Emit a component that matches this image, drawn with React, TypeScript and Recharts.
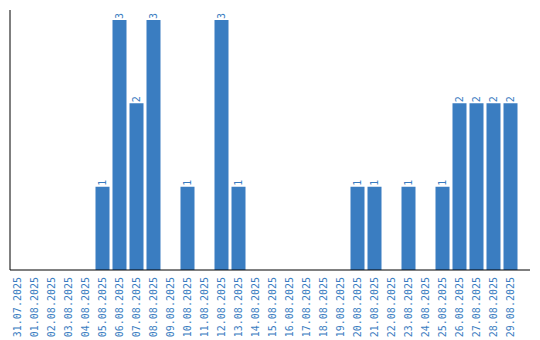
import React from 'react';
import { BarChart, Bar, XAxis, YAxis, LabelList } from 'recharts';

const dates = [
  '31.07.2025', '01.08.2025', '02.08.2025', '03.08.2025', '04.08.2025',
  '05.08.2025', '06.08.2025', '07.08.2025', '08.08.2025', '09.08.2025',
  '10.08.2025', '11.08.2025', '12.08.2025', '13.08.2025', '14.08.2025',
  '15.08.2025', '16.08.2025', '17.08.2025', '18.08.2025', '19.08.2025',
  '20.08.2025', '21.08.2025', '22.08.2025', '23.08.2025', '24.08.2025',
  '25.08.2025', '26.08.2025', '27.08.2025', '28.08.2025', '29.08.2025',
];

const counts = [
  0, 0, 0, 0, 0,
  1, 3, 2, 3, 0,
  1, 0, 3, 1, 0,
  0, 0, 0, 0, 0,
  1, 1, 0, 1, 0,
  1, 2, 2, 2, 2,
];

const data = dates.map((date, i) => ({ date, count: counts[i] }));

const BLUE = '#3a7dc1';
const FONT = '"DejaVu Sans Mono", "Liberation Mono", monospace';

const DateTick = (props: any) => {
  const { x, y, payload } = props;
  return (
    <text
      x={x}
      y={y}
      transform={`rotate(-90, ${x}, ${y})`}
      textAnchor="end"
      dominantBaseline="central"
      fill={BLUE}
      fontSize={10}
      fontFamily={FONT}
    >
      {payload.value}
    </text>
  );
};

const TopLabel = (props: any) => {
  const { x, y, width, value } = props;
  if (!value) return null;
  const cx = x + width / 2;
  const ty = y - 1;
  return (
    <text
      x={cx}
      y={ty}
      transform={`rotate(-90, ${cx}, ${ty})`}
      textAnchor="start"
      dominantBaseline="central"
      fill={BLUE}
      fontSize={10}
      fontFamily={FONT}
    >
      {value}
    </text>
  );
};

export default function App() {
  return (
    <div style={{ position: 'absolute', left: 0, top: 0, width: 540, height: 340, background: '#fff' }}>
      <BarChart
        width={540}
        height={340}
        data={data}
        margin={{ top: 10, right: 10, left: 9, bottom: 0 }}
        barSize={14}
      >
        <XAxis
          dataKey="date"
          interval={0}
          height={70}
          tickLine={false}
          tickSize={0}
          tickMargin={7}
          padding={{ left: -1.5, right: 11.5 }}
          axisLine={{ stroke: '#000' }}
          tick={<DateTick />}
        />
        <YAxis
          width={1}
          domain={[0, 3.12]}
          tick={false}
          tickLine={false}
          axisLine={{ stroke: '#000' }}
        />
        <Bar dataKey="count" fill={BLUE} isAnimationActive={false}>
          <LabelList dataKey="count" content={<TopLabel />} />
        </Bar>
      </BarChart>
    </div>
  );
}
